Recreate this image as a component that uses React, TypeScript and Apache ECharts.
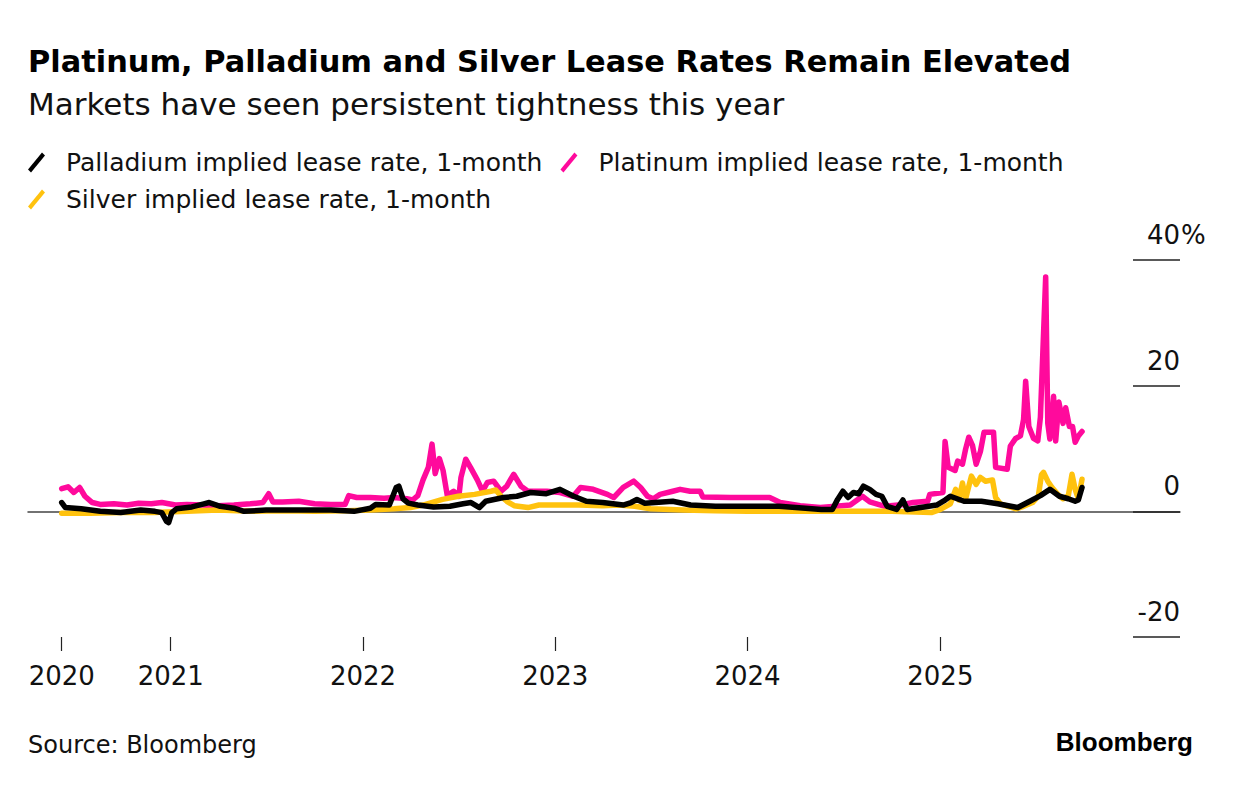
import React, { useEffect, useRef } from "react";
import * as echarts from "echarts";

const FONT = "DejaVu Sans";

const PLATINUM = "Platinum implied lease rate, 1-month";
const PALLADIUM = "Palladium implied lease rate, 1-month";
const SILVER = "Silver implied lease rate, 1-month";

const xMin = "2020-04-05";
const xMax = "2026-04-01";
const tickDates = ["2020-06-08", "2021-01-01", "2022-01-01", "2023-01-01", "2024-01-01", "2025-01-01"];
const yTicks = { min: -20, max: 40, interval: 20 };

const platinum: [string, number][] = [
  ["2020-06-08", 3.6], ["2020-06-20", 3.9], ["2020-07-01", 3.0], ["2020-07-12", 3.8], ["2020-07-22", 2.4],
  ["2020-08-05", 1.4], ["2020-08-20", 1.1], ["2020-09-15", 1.2], ["2020-10-10", 1.0], ["2020-11-01", 1.3],
  ["2020-11-25", 1.2], ["2020-12-15", 1.4], ["2021-01-10", 1.0], ["2021-02-01", 1.1], ["2021-03-01", 1.0],
  ["2021-04-01", 0.9], ["2021-05-01", 1.0], ["2021-06-01", 1.2], ["2021-06-25", 1.4], ["2021-07-06", 2.8],
  ["2021-07-14", 1.5], ["2021-08-01", 1.5], ["2021-09-01", 1.6], ["2021-10-01", 1.2], ["2021-11-01", 1.1],
  ["2021-11-28", 1.1], ["2021-12-05", 2.5], ["2021-12-20", 2.2], ["2022-01-15", 2.2], ["2022-02-10", 2.1],
  ["2022-03-01", 2.2], ["2022-03-25", 2.0], ["2022-04-05", 1.8], ["2022-04-15", 2.5], ["2022-04-25", 5.0],
  ["2022-05-05", 7.0], ["2022-05-12", 10.7], ["2022-05-18", 6.0], ["2022-05-26", 8.4], ["2022-06-02", 6.5],
  ["2022-06-10", 2.5], ["2022-06-22", 3.2], ["2022-07-02", 2.4], ["2022-07-06", 5.4], ["2022-07-15", 8.3],
  ["2022-07-24", 7.0], ["2022-08-06", 5.0], ["2022-08-16", 3.2], ["2022-08-25", 4.6], ["2022-09-06", 4.8],
  ["2022-09-20", 3.2], ["2022-10-01", 4.0], ["2022-10-14", 5.9], ["2022-10-28", 4.0], ["2022-11-10", 3.2],
  ["2022-12-16", 3.2], ["2023-01-10", 3.0], ["2023-02-04", 2.4], ["2023-02-18", 3.8], ["2023-03-14", 3.5],
  ["2023-04-10", 2.7], ["2023-04-22", 2.2], ["2023-05-10", 3.8], ["2023-05-30", 4.8], ["2023-06-12", 3.8],
  ["2023-06-25", 2.4], ["2023-07-06", 2.0], ["2023-07-19", 2.7], ["2023-08-12", 3.2], ["2023-08-26", 3.5],
  ["2023-09-14", 3.2], ["2023-10-03", 3.2], ["2023-10-08", 2.3], ["2023-11-30", 2.2], ["2024-01-05", 2.2],
  ["2024-02-12", 2.2], ["2024-03-03", 1.4], ["2024-04-10", 0.9], ["2024-05-18", 0.6], ["2024-06-16", 0.8],
  ["2024-07-14", 1.0], ["2024-08-06", 2.4], ["2024-08-20", 1.5], ["2024-09-18", 0.8], ["2024-10-23", 1.1],
  ["2024-11-10", 1.4], ["2024-12-08", 1.6], ["2024-12-12", 2.7], ["2025-01-06", 3.0], ["2025-01-10", 11.1],
  ["2025-01-16", 7.0], ["2025-01-29", 6.5], ["2025-02-03", 8.0], ["2025-02-12", 7.5], ["2025-02-18", 9.9],
  ["2025-02-24", 11.8], ["2025-03-03", 10.5], ["2025-03-10", 7.5], ["2025-03-18", 9.5], ["2025-03-25", 12.6],
  ["2025-04-12", 12.6], ["2025-04-16", 7.0], ["2025-05-08", 6.7], ["2025-05-14", 10.4], ["2025-05-24", 11.6],
  ["2025-06-02", 12.0], ["2025-06-08", 14.6], ["2025-06-12", 20.7], ["2025-06-18", 13.5], ["2025-06-27", 11.6],
  ["2025-07-05", 11.2], ["2025-07-10", 15.0], ["2025-07-20", 37.3], ["2025-07-24", 14.0], ["2025-07-28", 11.5],
  ["2025-08-04", 18.3], ["2025-08-08", 11.2], ["2025-08-14", 17.4], ["2025-08-22", 14.0], ["2025-08-27", 16.5],
  ["2025-09-03", 13.5], ["2025-09-09", 13.5], ["2025-09-14", 11.0], ["2025-09-20", 12.0], ["2025-09-27", 12.7],
];

const palladium: [string, number][] = [
  ["2020-06-08", 1.4], ["2020-06-15", 0.6], ["2020-07-15", 0.4], ["2020-08-20", 0.0], ["2020-09-28", -0.2],
  ["2020-11-05", 0.2], ["2020-12-02", 0.0], ["2020-12-15", -0.2], ["2020-12-24", -1.6], ["2020-12-28", -1.8],
  ["2021-01-03", -0.2], ["2021-01-12", 0.4], ["2021-02-10", 0.7], ["2021-03-05", 1.2], ["2021-03-15", 1.4],
  ["2021-04-05", 0.8], ["2021-05-01", 0.5], ["2021-05-20", 0.0], ["2021-07-01", 0.2], ["2021-09-01", 0.2],
  ["2021-11-01", 0.2], ["2021-12-15", 0.0], ["2022-01-15", 0.5], ["2022-01-25", 1.1], ["2022-02-20", 1.0],
  ["2022-03-05", 3.8], ["2022-03-10", 4.0], ["2022-03-18", 2.0], ["2022-03-28", 1.3], ["2022-04-15", 1.0],
  ["2022-05-15", 0.7], ["2022-06-15", 0.8], ["2022-07-10", 1.2], ["2022-07-25", 1.4], ["2022-08-10", 0.6],
  ["2022-08-22", 1.6], ["2022-09-25", 2.2], ["2022-10-20", 2.4], ["2022-11-15", 3.0], ["2022-12-15", 2.8],
  ["2023-01-10", 3.5], ["2023-02-05", 2.4], ["2023-03-01", 1.6], ["2023-04-01", 1.4], ["2023-05-10", 1.0],
  ["2023-05-25", 1.4], ["2023-06-05", 1.9], ["2023-06-20", 1.3], ["2023-08-12", 1.6], ["2023-09-15", 1.0],
  ["2023-11-01", 0.8], ["2024-01-01", 0.8], ["2024-03-01", 0.8], ["2024-04-20", 0.5], ["2024-05-20", 0.3],
  ["2024-06-10", 0.3], ["2024-06-20", 1.9], ["2024-06-30", 3.2], ["2024-07-10", 2.2], ["2024-07-20", 3.0],
  ["2024-07-30", 2.8], ["2024-08-08", 4.0], ["2024-08-20", 3.5], ["2024-09-01", 2.7], ["2024-09-12", 2.4],
  ["2024-09-22", 0.8], ["2024-10-10", 0.3], ["2024-10-22", 1.8], ["2024-10-30", 0.3], ["2024-12-01", 0.7],
  ["2024-12-25", 1.0], ["2025-01-10", 1.8], ["2025-01-20", 2.4], ["2025-02-15", 1.6], ["2025-03-20", 1.6],
  ["2025-04-20", 1.2], ["2025-05-15", 0.8], ["2025-05-28", 0.6], ["2025-06-20", 1.6], ["2025-07-10", 2.5],
  ["2025-07-28", 3.5], ["2025-08-15", 2.4], ["2025-09-01", 2.0], ["2025-09-14", 1.6], ["2025-09-20", 1.8],
  ["2025-09-27", 3.8],
];

const silver: [string, number][] = [
  ["2020-06-08", -0.3], ["2020-08-01", -0.3], ["2020-10-01", -0.2], ["2020-12-01", -0.2], ["2021-02-01", 0.0],
  ["2021-04-01", 0.2], ["2021-06-01", 0.0], ["2021-08-01", 0.1], ["2021-10-01", 0.0], ["2021-12-01", 0.1],
  ["2022-01-15", 0.2], ["2022-03-01", 0.4], ["2022-04-01", 0.6], ["2022-04-25", 1.0], ["2022-06-01", 1.9],
  ["2022-07-01", 2.4], ["2022-08-01", 2.7], ["2022-09-01", 3.2], ["2022-09-10", 3.4], ["2022-09-20", 2.4],
  ["2022-10-01", 1.6], ["2022-10-15", 0.9], ["2022-11-10", 0.6], ["2022-12-01", 1.0], ["2023-01-01", 1.0],
  ["2023-02-15", 1.0], ["2023-04-01", 0.9], ["2023-05-01", 1.0], ["2023-06-01", 0.8], ["2023-07-01", 0.4],
  ["2023-09-01", 0.2], ["2023-11-01", 0.1], ["2024-01-01", 0.0], ["2024-04-01", 0.0], ["2024-07-01", 0.0],
  ["2024-10-01", 0.0], ["2024-12-15", -0.2], ["2025-01-01", 0.3], ["2025-01-20", 1.2], ["2025-01-30", 3.5],
  ["2025-02-05", 1.8], ["2025-02-12", 4.5], ["2025-02-18", 2.0], ["2025-03-01", 5.6], ["2025-03-10", 4.3],
  ["2025-03-18", 5.4], ["2025-03-28", 4.8], ["2025-04-10", 5.0], ["2025-04-16", 2.2], ["2025-04-25", 1.2],
  ["2025-05-10", 0.8], ["2025-05-25", 0.4], ["2025-06-05", 0.7], ["2025-06-25", 1.4], ["2025-07-06", 2.4],
  ["2025-07-12", 5.8], ["2025-07-16", 6.2], ["2025-07-24", 4.8], ["2025-08-01", 3.8], ["2025-08-12", 2.7],
  ["2025-08-22", 2.0], ["2025-09-01", 2.5], ["2025-09-08", 5.9], ["2025-09-14", 3.5], ["2025-09-20", 2.0],
  ["2025-09-27", 5.1],
];

const COLORS = { platinum: "#FF0A9C", palladium: "#000000", silver: "#FFC20E" };

const toTs = (s: string) => {
  const [y, m, d] = s.split("-").map(Number);
  return Date.UTC(y, m - 1, d);
};

const SLASH = "path://M0,17 L3,20 L17,3 L14,0 Z";

export default function App() {
  const ref = useRef<HTMLDivElement>(null);
  useEffect(() => {
    if (!ref.current) return;
    const chart = echarts.init(ref.current, null, { renderer: "svg" });
    const gridLeft = 28;
    const gridRight = 53;
    const gridTop = 260;
    const gridBottom = 149;
    const labelSize = 26;
    const legendText = { fontFamily: FONT, fontSize: 25, color: "#111", padding: [0, 0, 0, 16] };
    const toPoints = (arr: [string, number][]) => arr.map(([d, v]) => [toTs(d), v]);
    const lineSeries = (name: string, data: [string, number][], color: string, z: number) => ({
      name,
      type: "line",
      data: toPoints(data),
      showSymbol: false,
      symbol: "none",
      z,
      lineStyle: { color, width: 5.5, cap: "round", join: "round" },
      itemStyle: { color },
      emphasis: { disabled: true },
    });
    const ticks = tickDates.map(toTs);
    chart.setOption({
      animation: false,
      textStyle: { fontFamily: FONT },
      title: [
        { text: "Platinum, Palladium and Silver Lease Rates Remain Elevated", left: 28, top: 46, padding: 0,
          textStyle: { fontFamily: FONT, fontSize: 30.4, fontWeight: "bold", color: "#000" } },
        { text: "Markets have seen persistent tightness this year", left: 28, top: 88, padding: 0,
          textStyle: { fontFamily: FONT, fontSize: 31, fontWeight: "normal", color: "#111" } },
        { text: "Source: Bloomberg", left: 28, top: 733, padding: 0,
          textStyle: { fontFamily: FONT, fontSize: 24, fontWeight: "normal", color: "#111" } },
        { text: "Bloomberg", right: 40, top: 729, padding: 0,
          textStyle: { fontFamily: "Liberation Sans", fontSize: 26, fontWeight: "bold", color: "#000" } },
      ],
      legend: [
        { data: [PALLADIUM, PLATINUM], left: 28, top: 150, padding: 0, itemGap: 18, itemWidth: 17, itemHeight: 20,
          icon: SLASH, textStyle: legendText, selectedMode: false },
        { data: [SILVER], left: 28, top: 187, padding: 0, itemWidth: 17, itemHeight: 20,
          icon: SLASH, textStyle: legendText, selectedMode: false },
      ],
      grid: { left: gridLeft, right: gridRight, top: gridTop, bottom: gridBottom, containLabel: false },
      xAxis: [
        {
          type: "value",
          min: toTs(xMin),
          max: toTs(xMax),
          position: "bottom",
          axisLine: { show: false, onZero: false },
          splitLine: { show: false },
          axisTick: { show: true, length: 14, customValues: ticks, lineStyle: { color: "#222", width: 1.2 } },
          axisLabel: {
            customValues: ticks,
            formatter: (v: number) => String(new Date(v).getUTCFullYear()),
            fontFamily: FONT, fontSize: labelSize, color: "#111", margin: 26,
          },
        },
        {
          type: "value",
          min: toTs(xMin),
          max: toTs(xMax),
          axisLine: { show: true, onZero: true, lineStyle: { color: "#444", width: 1.5 } },
          axisTick: { show: false },
          axisLabel: { show: false },
          splitLine: { show: false },
        },
      ],
      yAxis: {
        type: "value",
        position: "right",
        min: yTicks.min,
        max: yTicks.max,
        interval: yTicks.interval,
        axisLine: { show: false },
        splitLine: { show: false },
        axisTick: { show: true, inside: true, length: 47, lineStyle: { color: "#222", width: 1.5 } },
        axisLabel: {
          inside: true,
          margin: 0,
          verticalAlign: "bottom",
          padding: [0, 0, 12, 0],
          fontFamily: FONT, fontSize: labelSize, color: "#111",
        },
      },
      graphic: [
        { type: "text", left: 1233 - gridRight + 1, top: gridTop - 12 - labelSize,
          style: { text: "%", fontFamily: FONT, fontSize: labelSize, fill: "#111" } },
      ],
      series: [
        lineSeries(PLATINUM, platinum, COLORS.platinum, 2),
        lineSeries(SILVER, silver, COLORS.silver, 3),
        lineSeries(PALLADIUM, palladium, COLORS.palladium, 4),
      ],
    });
    return () => chart.dispose();
  }, []);
  return <div ref={ref} style={{ position: "absolute", left: 0, top: 0, width: 1233, height: 786 }} />;
}
